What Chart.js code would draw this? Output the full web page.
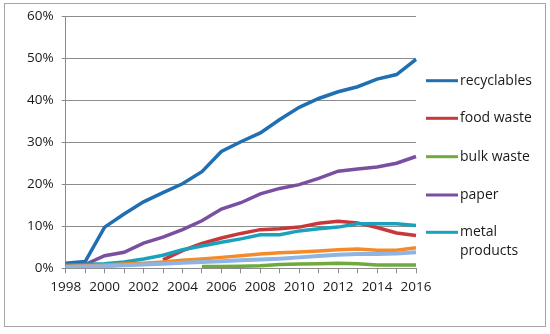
<!DOCTYPE html>
<html>
<head>
<meta charset="utf-8">
<script src="https://cdn.jsdelivr.net/npm/chart.js@4.4.1/dist/chart.umd.min.js"></script>
<style>
html,body{margin:0;padding:0;background:#fff;}
#c{display:block;}
</style>
</head>
<body>
<canvas id="c" width="550" height="334"></canvas>
<script>
const years = ['1998','1999','2000','2001','2002','2003','2004','2005','2006','2007','2008','2009','2010','2011','2012','2013','2014','2015','2016'];
const yTicks = [0,10,20,30,40,50,60];
const seriesNames = ['recyclables','food waste','bulk waste','paper','metal products','series 6','series 7'];
const recyclables = [1.2,1.6,9.8,12.9,15.8,18.0,20.1,23.0,27.8,30.1,32.2,35.4,38.3,40.4,42.0,43.2,45.0,46.1,49.7];
const foodWaste = [null,null,null,null,null,2.0,4.2,5.9,7.2,8.3,9.2,9.4,9.8,10.7,11.2,10.8,9.7,8.4,7.8];
const bulkWaste = [null,null,null,null,null,null,null,0.4,0.4,0.5,0.6,0.9,1.0,1.1,1.2,1.1,0.8,0.8,0.8];
const paper = [0.8,0.9,3.0,3.8,6.0,7.4,9.2,11.3,14.1,15.6,17.7,19.0,19.9,21.4,23.1,23.6,24.1,25.0,26.6];
const metalProducts = [0.7,0.9,1.1,1.5,2.2,3.1,4.4,5.3,6.2,7.0,8.0,8.0,8.9,9.4,9.8,10.6,10.6,10.6,10.2];
const series6 = [0.5,0.6,0.8,1.0,1.2,1.5,1.9,2.2,2.6,3.0,3.4,3.7,3.9,4.1,4.4,4.6,4.3,4.3,4.9];
const series7 = [0.3,0.4,0.5,0.7,0.9,1.1,1.3,1.5,1.7,1.9,2.1,2.3,2.6,2.9,3.2,3.4,3.4,3.5,3.8];

const values = [recyclables, foodWaste, bulkWaste, paper, metalProducts, series6, series7];
const colors = ['#1f6fb2','#c8383a','#6fab3c','#7a4fa0','#1aa2bc','#f58a2a','#8eb4e3'];
const legendCount = 5;
const FONT = '"Open Sans", "Liberation Sans", sans-serif';

const datasets = values.map((v, i) => ({
  label: seriesNames[i],
  data: v,
  borderColor: colors[i],
  backgroundColor: colors[i],
  borderWidth: i === 6 ? 4 : 3.5,
  pointRadius: 0,
  tension: 0,
  fill: false,
  order: -i
}));

const frame = {
  id: 'frame',
  beforeDraw(chart) {
    const ctx = chart.ctx;
    ctx.save();
    ctx.fillStyle = '#fff';
    ctx.fillRect(0, 0, chart.width, chart.height);
    ctx.strokeStyle = '#a6a6a6';
    ctx.lineWidth = 1;
    ctx.strokeRect(4.5, 3.5, 541, 323);
    ctx.restore();
  },
  afterDraw(chart) {
    const ctx = chart.ctx;
    ctx.save();
    const ys = [80.7, 118.3, 156.7, 195, 232.3];
    ctx.font = '14px ' + FONT;
    ctx.textBaseline = 'middle';
    ctx.fillStyle = '#1a1a1a';
    for (let i = 0; i < legendCount; i++) {
      const y = ys[i];
      ctx.strokeStyle = colors[i];
      ctx.lineWidth = 3;
      ctx.beginPath();
      ctx.moveTo(426, y);
      ctx.lineTo(458, y);
      ctx.stroke();
      const parts = seriesNames[i].split(' ');
      if (seriesNames[i] === 'metal products') {
        ctx.fillText(parts[0], 460, y);
        ctx.fillText(parts[1], 460, y + 18.5);
      } else {
        ctx.fillText(seriesNames[i], 460, y);
      }
    }
    ctx.restore();
  }
};

new Chart(document.getElementById('c'), {
  type: 'line',
  data: { labels: years, datasets },
  options: {
    responsive: false,
    animation: false,
    devicePixelRatio: 1,
    layout: { padding: { left: 0, right: 134, top: 12.7, bottom: 0 } },
    plugins: { legend: { display: false }, tooltip: { enabled: false } },
    scales: {
      x: {
        offset: false,
        grid: { display: true, drawOnChartArea: false, drawTicks: true, tickLength: 5, color: '#8c8c8c', tickColor: '#8c8c8c' },
        border: { display: true, color: '#8c8c8c', width: 1 },
        ticks: {
          autoSkip: false, maxRotation: 0, minRotation: 0, padding: 6,
          color: '#1a1a1a', font: { family: FONT, size: 13.5 },
          callback: function(v, i) { return (parseInt(years[i]) % 2 === 0) ? years[i] : ''; }
        },
        afterFit(s) { s.height = 65.7; }
      },
      y: {
        min: 0, max: 60,
        afterBuildTicks(s) { s.ticks = yTicks.map(v => ({ value: v })); },
        grid: { color: '#8c8c8c', tickLength: 4, tickColor: '#8c8c8c', lineWidth: 1 },
        border: { display: true, color: '#8c8c8c', width: 1 },
        ticks: {
          padding: 8, color: '#1a1a1a', font: { family: FONT, size: 13.5 },
          callback: v => v + '%'
        },
        afterFit(s) { s.width = 65.7; }
      }
    }
  },
  plugins: [frame]
});
</script>
</body>
</html>
